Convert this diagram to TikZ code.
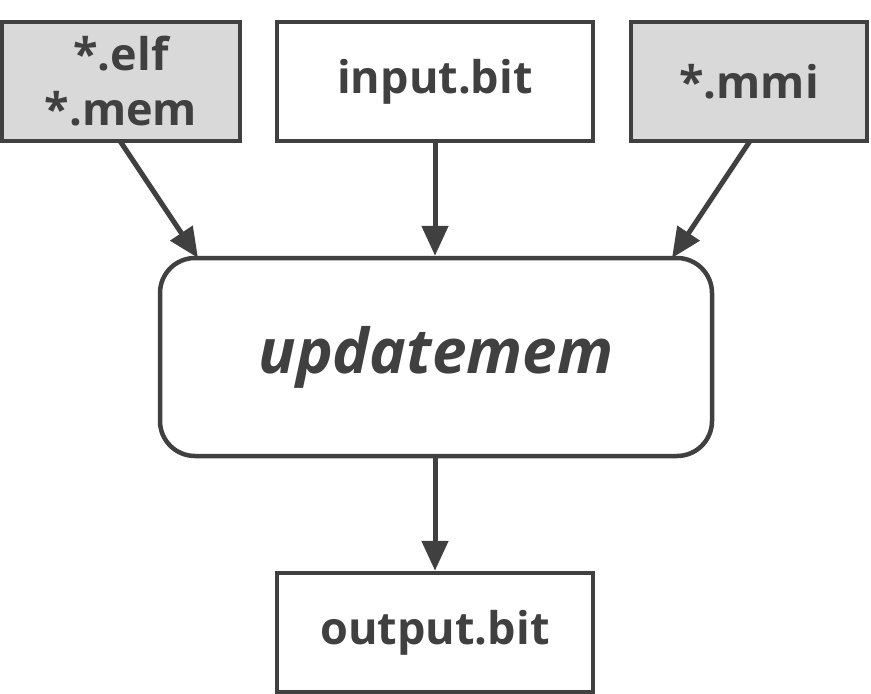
\documentclass[tikz,border=0pt]{standalone}
\usepackage{fontspec}
\setmainfont{Open Sans}
\usetikzlibrary{arrows.meta}
\definecolor{ink}{HTML}{404040}
\definecolor{boxgray}{HTML}{D9D9D9}
\begin{document}
\begin{tikzpicture}[x=1pt,y=-1pt,
  filebox/.style={draw=ink,line width=4.5pt,text=ink,font=\fontsize{45}{50}\selectfont\bfseries,align=center,inner sep=0pt},
  conn/.style={draw=ink,line width=5pt,-{Triangle[length=30pt,width=26pt]}}]
\useasboundingbox (0,0) rectangle (871,694);
\node[filebox,fill=boxgray,minimum width=238pt,minimum height=119pt] (elf) at (121,81.5) {*.elf\\[5pt]*.mem};
\node[filebox,fill=white,minimum width=316pt,minimum height=119pt] (inp) at (435,81.5) {input.bit};
\node[filebox,fill=boxgray,minimum width=236pt,minimum height=119pt] (mmi) at (749,81.5) {*.mmi};
\node[filebox,fill=white,rounded corners=35pt,minimum width=552pt,minimum height=198pt,font=\fontsize{62}{66}\selectfont\bfseries\itshape] (upd) at (436,357) {updatemem};
\node[filebox,fill=white,minimum width=316pt,minimum height=119pt] (out) at (435,632.5) {output.bit};
\coordinate (aL) at (198,258);
\coordinate (aR) at (672,258);
\draw[conn] (120,141) -- (aL);
\draw[conn] (inp.south) -- (upd.north -| inp.south);
\draw[conn] (750,141) -- (aR);
\draw[conn] (upd.south -| out.north) -- (out.north);
\end{tikzpicture}
\end{document}
